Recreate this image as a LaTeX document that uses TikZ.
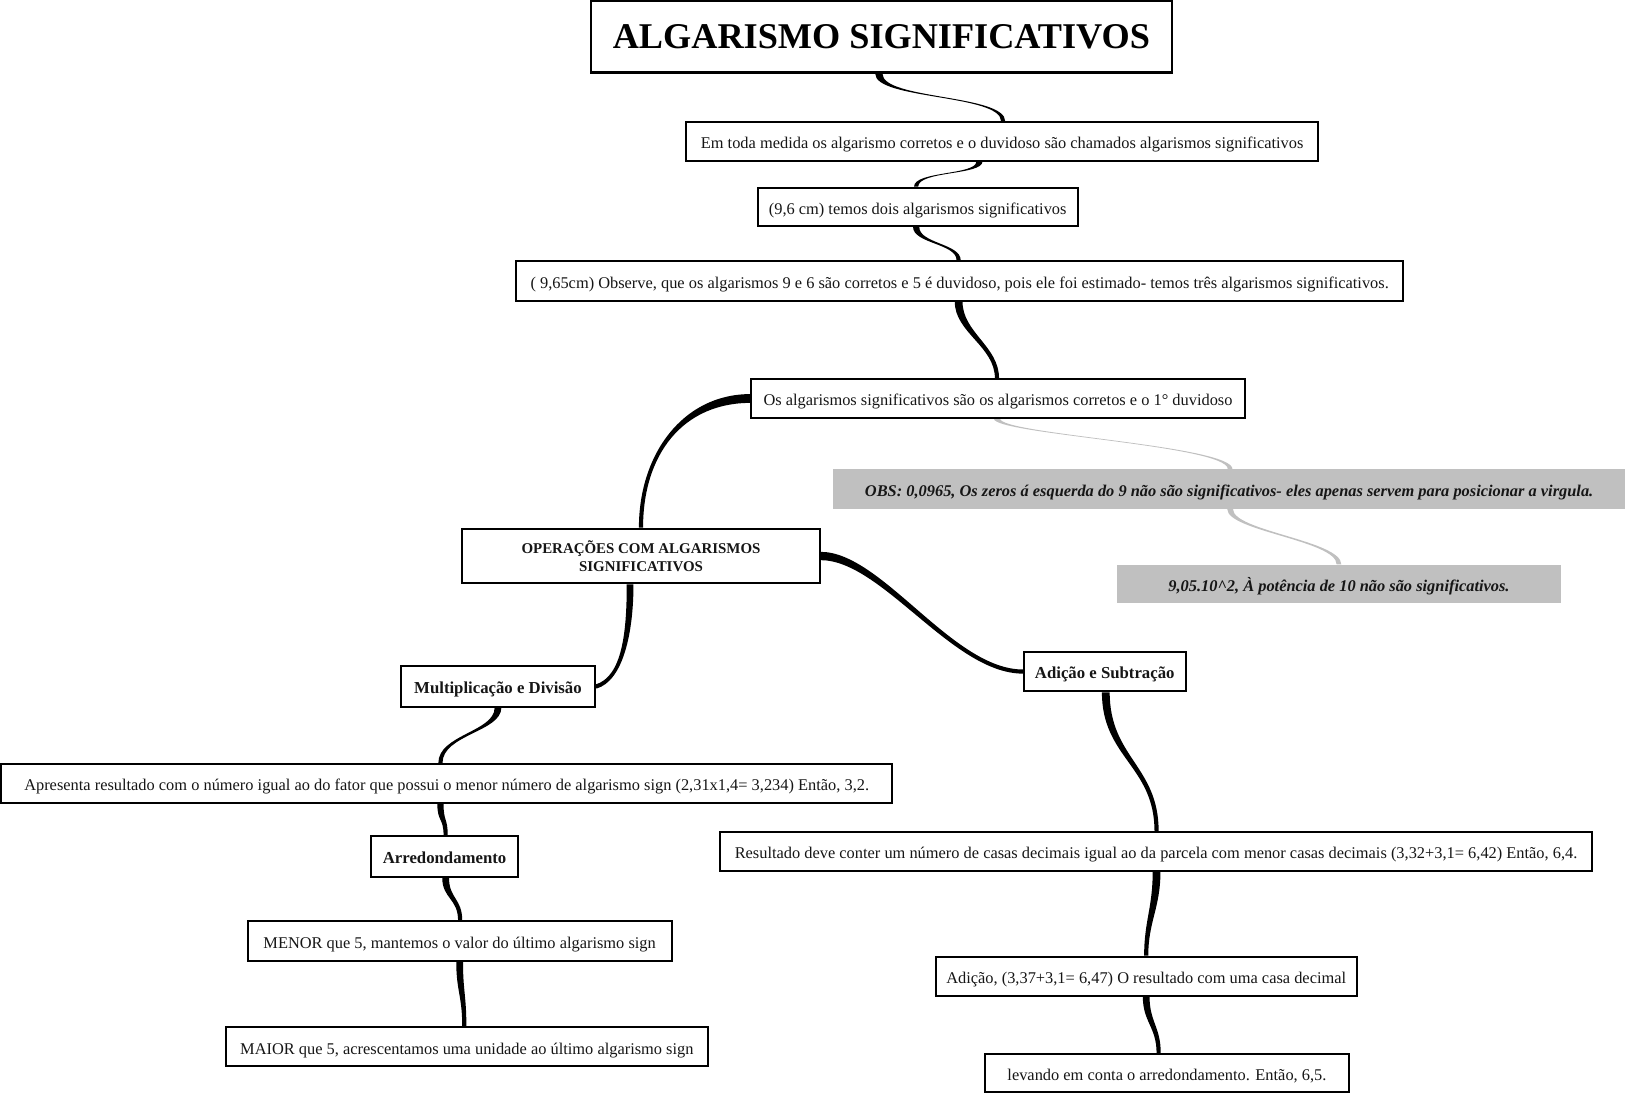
\documentclass[tikz,border=0pt]{standalone}
\usepackage{fontspec}
\setmainfont{Liberation Serif}
\usetikzlibrary{calc,backgrounds}
\definecolor{obsgray}{RGB}{192,192,192}
\definecolor{ink}{RGB}{22,22,22}
% tapered branch: #1..#4 = P0,P1,P2,P3 ; #5 half width at start ; #6 half width at end ; #7 style
\newcommand\branch[7]{%
  \fill[#7] ($(#1)!#5!90:(#2)$) .. controls ($(#2)!#5!-90:(#1)$) and ($(#3)!#6!90:(#4)$) .. ($(#4)!#6!-90:(#3)$)
    -- ($(#4)!#6!90:(#3)$) .. controls ($(#3)!#6!-90:(#4)$) and ($(#2)!#5!90:(#1)$) .. ($(#1)!#5!-90:(#2)$) -- cycle;}
\begin{document}
\begin{tikzpicture}[x=0.02cm,y=-0.02cm,
  box/.style={draw=black,line width=1.1pt,fill=white,inner sep=0pt,text=ink,font=\fontsize{9}{11}\selectfont},
  one/.style={text height=8pt,text depth=0pt},
  boldbox/.style={box,font=\fontsize{9.2}{10.3}\selectfont\bfseries},
  graybox/.style={fill=obsgray,inner sep=0pt,text=ink,font=\fontsize{9}{11}\selectfont\bfseries\itshape,one},
  blackbranch/.style={fill=black},
  graybranch/.style={fill=obsgray}]
\useasboundingbox (0,0) rectangle (1568,1056);

% nodes
\node[box,line width=1.3pt,minimum width=11.22cm,minimum height=1.38cm,font=\fontsize{19.9}{22}\selectfont\bfseries,text=black] (title) at (850.5,35.5) {ALGARISMO SIGNIFICATIVOS};
\node[box,one,minimum width=12.2cm,minimum height=0.74cm] (em) at (967,136.5) {Em toda medida os algarismo corretos e o duvidoso são chamados algarismos significativos};
\node[box,one,minimum width=6.18cm,minimum height=0.74cm] (n96) at (885.5,199.5) {(9,6 cm) temos dois algarismos significativos};
\node[box,one,minimum width=17.12cm,minimum height=0.76cm] (n965) at (926,271) {( 9,65cm) Observe, que os algarismos 9 e 6 são corretos e 5 é duvidoso, pois ele foi estimado- temos três algarismos significativos.};
\node[box,one,minimum width=9.52cm,minimum height=0.74cm] (os) at (963,384.5) {Os algarismos significativos são os algarismos corretos e o 1° duvidoso};
\node[graybox,minimum width=15.28cm,minimum height=0.76cm] (obs) at (1186,472) {OBS: 0,0965, Os zeros á esquerda do 9 não são significativos- eles apenas servem para posicionar a virgula.};
\node[graybox,minimum width=8.56cm,minimum height=0.74cm] (n905) at (1292,563.5) {9,05.10\textasciicircum2, À potência de 10 não são significativos.};
\node[boldbox,minimum width=6.9cm,minimum height=1.06cm,align=center,font=\fontsize{8.2}{10.2}\selectfont\bfseries] (oper) at (618.5,536.5) {OPERAÇÕES COM ALGARISMOS\\SIGNIFICATIVOS};
\node[boldbox,one,minimum width=3.74cm,minimum height=0.78cm] (mult) at (480.5,662.5) {Multiplicação e Divisão};
\node[boldbox,one,minimum width=3.12cm,minimum height=0.76cm] (adsub) at (1066,648) {Adição e Subtração};
\node[box,one,minimum width=17.2cm,minimum height=0.76cm] (apres) at (431,756) {Apresenta resultado com o número igual ao do fator que possui o menor número de algarismo sign (2,31x1,4= 3,234) Então, 3,2.};
\node[boldbox,one,minimum width=2.84cm,minimum height=0.78cm,font=\fontsize{9.2}{10.5}\selectfont\bfseries] (arred) at (429,826.5) {Arredondamento};
\node[box,one,minimum width=8.18cm,minimum height=0.76cm] (menor) at (443.5,908) {MENOR que 5, mantemos o valor do último algarismo sign};
\node[box,one,minimum width=9.3cm,minimum height=0.76cm] (maior) at (450.5,1010) {MAIOR que 5, acrescentamos uma unidade ao último algarismo sign};
\node[box,one,minimum width=16.82cm,minimum height=0.74cm] (result) at (1115.5,821.5) {Resultado deve conter um número de casas decimais igual ao da parcela com menor casas decimais (3,32+3,1= 6,42) Então, 6,4.};
\node[box,one,minimum width=8.12cm,minimum height=0.76cm] (adic) at (1106,942) {Adição, (3,37+3,1= 6,47) O resultado com uma casa decimal};
\node[box,one,minimum width=7.04cm,minimum height=0.74cm] (lev) at (1126,1035.5) {levando em conta o arredondamento. Então, 6,5.};

% connector control points
\coordinate (a0) at ([xshift=-0.05cm]title.south); \coordinate (a1) at ([yshift=-0.5cm]a0);
\coordinate (a3) at ([xshift=0.02cm]em.north);      \coordinate (a2) at ([yshift=0.52cm]a3);
\coordinate (b0) at ([xshift=-0.44cm]em.south);     \coordinate (b1) at ([yshift=-0.26cm]b0);
\coordinate (b3) at ([xshift=-0.03cm]n96.north);    \coordinate (b2) at ([yshift=0.3cm]b3);
\coordinate (c0) at ([xshift=-0.03cm]n96.south);    \coordinate (c1) at ([yshift=-0.32cm]c0);
\coordinate (c3) at ([xshift=-0.02cm]n965.north);   \coordinate (c2) at ([yshift=0.32cm]c3);
\coordinate (d0) at ([xshift=-0.02cm]n965.south);   \coordinate (d1) at ([yshift=-0.6cm]d0);
\coordinate (d3) at ([xshift=-0.02cm]os.north);     \coordinate (d2) at ([yshift=0.62cm]d3);
\coordinate (e0) at (os.west);                      \coordinate (e1) at ([xshift=-1.3cm]e0);
\coordinate (e3) at (oper.north);                   \coordinate (e2) at ([yshift=1.42cm]e3);
\coordinate (f0) at ([xshift=-0.02cm]os.south);     \coordinate (f1) at ([yshift=-0.3cm]f0);
\coordinate (f3) at ([xshift=0.02cm]obs.north);     \coordinate (f2) at ([yshift=0.46cm]f3);
\coordinate (g0) at ([xshift=0.02cm]obs.south);     \coordinate (g1) at ([yshift=-0.42cm]g0);
\coordinate (g3) at (n905.north);                   \coordinate (g2) at ([yshift=0.46cm]g3);
\coordinate (h0) at ([xshift=-0.21cm]oper.south);   \coordinate (h1) at ([yshift=-0.92cm]h0);
\coordinate (h3) at (mult.east);                    \coordinate (h2) at ([xshift=0.52cm,yshift=0.15cm]h3);
\coordinate (i0) at (oper.east);                    \coordinate (i1) at ([xshift=1.18cm]i0);
\coordinate (i3) at (adsub.west);                   \coordinate (i2) at ([xshift=-1.36cm]i3);
\coordinate (j0) at (mult.south);                   \coordinate (j1) at ([yshift=-0.46cm]j0);
\coordinate (j3) at ([xshift=-0.12cm]apres.north);  \coordinate (j2) at ([yshift=0.54cm]j3);
\coordinate (k0) at ([xshift=-0.12cm]apres.south);  \coordinate (k1) at ([yshift=-0.34cm]k0);
\coordinate (k3) at ([xshift=0.02cm]arred.north);   \coordinate (k2) at ([yshift=0.34cm]k3);
\coordinate (l0) at ([xshift=0.02cm]arred.south);   \coordinate (l1) at ([yshift=-0.4cm]l0);
\coordinate (l3) at ([xshift=0.01cm]menor.north);   \coordinate (l2) at ([yshift=0.42cm]l3);
\coordinate (m0) at (menor.south);                  \coordinate (m1) at ([yshift=-0.56cm]m0);
\coordinate (m3) at ([xshift=-0.05cm]maior.north);  \coordinate (m2) at ([yshift=0.58cm]m3);
\coordinate (n0) at ([xshift=0.02cm]adsub.south);   \coordinate (n1) at ([yshift=-1.26cm]n0);
\coordinate (n3) at ([xshift=0.01cm]result.north);  \coordinate (n2) at ([yshift=1.26cm]n3);
\coordinate (o0) at ([xshift=0.01cm]result.south);  \coordinate (o1) at ([yshift=-0.7cm]o0);
\coordinate (o3) at (adic.north);                   \coordinate (o2) at ([yshift=0.66cm]o3);
\coordinate (p0) at (adic.south);                   \coordinate (p1) at ([yshift=-0.48cm]p0);
\coordinate (p3) at ([xshift=-0.16cm]lev.north);    \coordinate (p2) at ([yshift=0.5cm]p3);

\begin{scope}[on background layer]
\fill[white] (0,0) rectangle (1568,1056);
\branch{a0}{a1}{a2}{a3}{0.07cm}{0.04cm}{blackbranch}
\branch{b0}{b1}{b2}{b3}{0.06cm}{0.04cm}{blackbranch}
\branch{c0}{c1}{c2}{c3}{0.06cm}{0.04cm}{blackbranch}
\branch{d0}{d1}{d2}{d3}{0.075cm}{0.04cm}{blackbranch}
\branch{e0}{e1}{e2}{e3}{0.085cm}{0.04cm}{blackbranch}
\branch{f0}{f1}{f2}{f3}{0.06cm}{0.045cm}{graybranch}
\branch{g0}{g1}{g2}{g3}{0.055cm}{0.045cm}{graybranch}
\branch{h0}{h1}{h2}{h3}{0.065cm}{0.04cm}{blackbranch}
\branch{i0}{i1}{i2}{i3}{0.08cm}{0.04cm}{blackbranch}
\branch{j0}{j1}{j2}{j3}{0.065cm}{0.04cm}{blackbranch}
\branch{k0}{k1}{k2}{k3}{0.06cm}{0.04cm}{blackbranch}
\branch{l0}{l1}{l2}{l3}{0.065cm}{0.04cm}{blackbranch}
\branch{m0}{m1}{m2}{m3}{0.065cm}{0.04cm}{blackbranch}
\branch{n0}{n1}{n2}{n3}{0.075cm}{0.04cm}{blackbranch}
\branch{o0}{o1}{o2}{o3}{0.075cm}{0.04cm}{blackbranch}
\branch{p0}{p1}{p2}{p3}{0.065cm}{0.04cm}{blackbranch}
\end{scope}
\end{tikzpicture}
\end{document}
